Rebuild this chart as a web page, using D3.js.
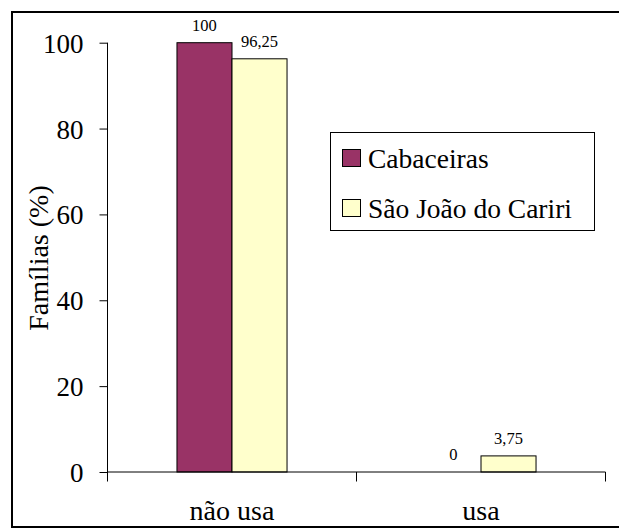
<!DOCTYPE html>
<html>
<head>
<meta charset="utf-8">
<script src="https://cdn.jsdelivr.net/npm/d3@7/dist/d3.min.js"></script>
<style>
  html, body { margin: 0; padding: 0; background: #fff; }
  svg { display: block; }
  svg, svg text { font-family: "Liberation Serif", "Times New Roman", Times, Tinos, "DejaVu Serif", serif; fill: #000; }
</style>
</head>
<body>
<svg id="chart" width="619" height="528"></svg>
<script>
// Families using / not using, by municipality (%)
const categories = ["não usa", "usa"];
const seriesNames = ["Cabaceiras", "São João do Cariri"];
const cabaceiras = [100, 0];
const saoJoao = [96.25, 3.75];
const valueLabels = [["100", "0"], ["96,25", "3,75"]];
const yTicks = [0, 20, 40, 60, 80, 100];
const colors = ["#993366", "#FFFFCC"];

const series = [cabaceiras, saoJoao];
const FONT = '"Liberation Serif", "Times New Roman", Times, Tinos, "DejaVu Serif", serif';

const svg = d3.select("#chart").style("font-family", FONT);

// outer chart frame (runs past the right and bottom edges)
svg.append("rect")
  .attr("x", 12).attr("y", 12)
  .attr("width", 640).attr("height", 515)
  .attr("fill", "none").attr("stroke", "#000").attr("stroke-width", 2);

const plot = { left: 107.5, right: 605.5, top: 42.7, bottom: 472 };

const x = d3.scaleBand().domain(categories).range([plot.left, plot.right]).padding(0);
const groupFrac = 0.442;
const xs = d3.scaleBand().domain(seriesNames.map((d, i) => i))
  .range([0, x.bandwidth() * groupFrac]).padding(0);
const y = d3.scaleLinear().domain([0, 100]).range([plot.bottom, plot.top]);

// bars
series.forEach((vals, si) => {
  svg.append("g").selectAll("rect")
    .data(vals)
    .join("rect")
    .attr("x", (d, i) => x(categories[i]) + x.bandwidth() * (1 - groupFrac) / 2 + xs(si))
    .attr("y", d => y(d))
    .attr("width", xs.bandwidth())
    .attr("height", d => y(0) - y(d))
    .attr("fill", colors[si])
    .attr("stroke", d => d > 0 ? "#000" : "none")
    .attr("stroke-width", 1);

  svg.append("g").selectAll("text")
    .data(vals)
    .join("text")
    .attr("x", (d, i) => x(categories[i]) + x.bandwidth() * (1 - groupFrac) / 2 + xs(si) + xs.bandwidth() / 2)
    .attr("y", d => y(d) - 12)
    .attr("text-anchor", "middle")
    .style("font-family", FONT)
    .attr("font-size", 16.5)
    .text((d, i) => valueLabels[si][i]);
});

// y axis
const yAxis = d3.axisLeft(y).tickValues(yTicks).tickSize(8).tickPadding(16).tickFormat(d3.format("d"));
const gy = svg.append("g").attr("transform", `translate(${plot.left},0)`).call(yAxis);
gy.attr("font-family", null).attr("font-size", null);
gy.select(".domain").attr("d", `M0,${plot.top}V${plot.bottom + 9.5}`).attr("stroke", "#000");
gy.selectAll(".tick line").attr("stroke", "#000");
gy.selectAll(".tick text")
  .style("font-family", FONT)
  .attr("font-size", 27).attr("dy", "0.35em").attr("fill", "#000");

// x axis
const gx = svg.append("g").attr("transform", `translate(0,${plot.bottom})`);
gx.append("line").attr("x1", plot.left).attr("x2", plot.right).attr("y1", 0).attr("y2", 0).attr("stroke", "#000");
gx.selectAll("line.sep")
  .data(categories.map(c => x(c) + x.bandwidth()))
  .join("line")
  .attr("class", "sep")
  .attr("x1", d => d).attr("x2", d => d)
  .attr("y1", 0).attr("y2", 9.5)
  .attr("stroke", "#000");
gx.selectAll("text")
  .data(categories)
  .join("text")
  .attr("x", d => x(d) + x.bandwidth() / 2)
  .attr("y", 48)
  .attr("text-anchor", "middle")
  .style("font-family", FONT)
  .attr("font-size", 28)
  .text(d => d);

// y axis title
svg.append("text")
  .attr("transform", "translate(48,258) rotate(-90)")
  .attr("text-anchor", "middle")
  .style("font-family", FONT)
  .attr("font-size", 28)
  .text("Famílias (%)");

// legend
const lg = svg.append("g");
lg.append("rect")
  .attr("x", 330.5).attr("y", 132.5).attr("width", 264).attr("height", 98)
  .attr("fill", "#fff").attr("stroke", "#000").attr("stroke-width", 1);
seriesNames.forEach((name, i) => {
  const yy = 149.5 + i * 50;
  lg.append("rect")
    .attr("x", 342.5).attr("y", yy).attr("width", 18).attr("height", 17)
    .attr("fill", colors[i]).attr("stroke", "#000").attr("stroke-width", 1);
  lg.append("text")
    .attr("x", 368).attr("y", yy + 18.5)
    .style("font-family", FONT)
    .attr("font-size", 27.5)
    .text(name);
});
</script>
</body>
</html>
